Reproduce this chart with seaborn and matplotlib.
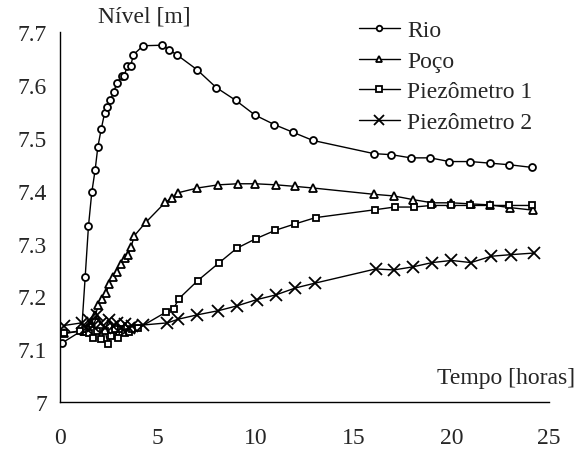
import matplotlib
matplotlib.use('Agg')
import matplotlib.pyplot as plt
import seaborn as sns
import pandas as pd

# 데이터
rio_t = [0.1, 1.1, 1.28, 1.45, 1.62, 1.79, 1.93, 2.10, 2.27, 2.42, 2.57, 2.74, 2.91, 3.17, 3.27,
         3.43, 3.6, 3.75, 4.24, 5.23, 5.59, 6.0, 6.99, 7.98, 8.97, 9.96, 10.95, 11.93, 12.92,
         16.04, 16.94, 17.93, 18.92, 19.9, 20.98, 21.97, 22.96, 24.11]
rio_h = [7.112, 7.135, 7.236, 7.333, 7.397, 7.439, 7.483, 7.516, 7.546, 7.559, 7.571, 7.587, 7.604,
         7.617, 7.617, 7.635, 7.635, 7.657, 7.674, 7.675, 7.666, 7.656, 7.629, 7.595, 7.571, 7.543,
         7.525, 7.510, 7.495, 7.470, 7.468, 7.462, 7.462, 7.455, 7.455, 7.452, 7.449, 7.444]

poco_t = [0.2, 1.2, 1.4, 1.6, 1.8, 1.96, 2.13, 2.34, 2.5, 2.72, 2.91, 3.1, 3.31, 3.48, 3.63, 3.8,
          4.38, 5.38, 5.71, 6.03, 7.02, 8.09, 9.08, 9.98, 11.04, 12.03, 12.93, 16.07, 17.06,
          18.05, 19.02, 20.01, 21.0, 21.98, 22.99, 24.2]
poco_h = [7.13, 7.135, 7.14, 7.15, 7.165, 7.183, 7.195, 7.206, 7.223, 7.237, 7.246, 7.261, 7.272,
          7.279, 7.294, 7.315, 7.34, 7.378, 7.386, 7.396, 7.405, 7.411, 7.413, 7.413, 7.411, 7.408,
          7.405, 7.393, 7.39, 7.383, 7.377, 7.377, 7.375, 7.373, 7.368, 7.363]

pz1_t = [0.2, 1.0, 1.3, 1.5, 1.7, 1.9, 2.1, 2.3, 2.45, 2.6, 2.8, 2.95, 3.1, 3.3, 3.5, 3.7, 4.0,
         5.4, 5.8, 6.08, 7.04, 8.11, 9.03, 10.0, 11.0, 12.0, 13.06, 16.12, 17.1, 18.09, 18.98,
         19.99, 20.97, 21.96, 22.96, 24.11]
pz1_h = [7.13, 7.135, 7.138, 7.13, 7.122, 7.135, 7.12, 7.135, 7.11, 7.125, 7.138, 7.122, 7.138,
         7.13, 7.133, 7.138, 7.14, 7.17, 7.177, 7.196, 7.23, 7.263, 7.291, 7.309, 7.325, 7.337,
         7.349, 7.364, 7.369, 7.369, 7.372, 7.372, 7.372, 7.372, 7.372, 7.372]

pz2_t = [0.2, 1.1, 1.3, 1.5, 1.7, 1.9, 2.1, 2.3, 2.5, 2.7, 2.9, 3.1, 3.3, 3.5, 3.7, 4.26, 5.49,
         6.05, 6.99, 8.09, 9.03, 10.06, 11.04, 12.03, 13.02, 16.14, 17.06, 18.05, 19.02, 20.01,
         21.0, 22.05, 23.06, 24.22]
pz2_h = [7.145, 7.15, 7.14, 7.155, 7.145, 7.165, 7.15, 7.14, 7.155, 7.145, 7.15, 7.14, 7.148,
         7.14, 7.145, 7.146, 7.15, 7.157, 7.165, 7.173, 7.182, 7.194, 7.203, 7.216, 7.225, 7.252,
         7.25, 7.256, 7.264, 7.268, 7.264, 7.276, 7.279, 7.282]

sns.set_style('white')
plt.rcParams['font.family'] = ['Liberation Serif', 'DejaVu Serif']

fig = plt.figure(figsize=(5.78, 4.52), dpi=100)
ax = fig.add_axes([0.104, 0.108, 0.846, 0.819])

series = [
    ('Rio', rio_t, rio_h, dict(marker='o', markersize=5, markeredgewidth=1.3)),
    ('Poço', poco_t, poco_h, dict(marker='^', markersize=6, markeredgewidth=1.3)),
    ('Piezômetro 1', pz1_t, pz1_h, dict(marker='s', markersize=5, markeredgewidth=1.3)),
    ('Piezômetro 2', pz2_t, pz2_h, dict(marker='x', markersize=9, markeredgewidth=1.3)),
]
for nome, t, h, kw in series:
    df = pd.DataFrame({'t': t, 'h': h})
    sns.lineplot(data=df, x='t', y='h', ax=ax, color='black', linewidth=1,
                 markerfacecolor='white', markeredgecolor='black', estimator=None,
                 label=nome, **kw)

ax.set_xlim(0, 25)
ax.set_ylim(7, 7.7)
ax.set_xticks([0, 5, 10, 15, 20, 25])
ax.set_yticks([7, 7.1, 7.2, 7.3, 7.4, 7.5, 7.6, 7.7])
ax.set_yticklabels(['7', '7.1', '7.2', '7.3', '7.4', '7.5', '7.6', '7.7'])
ax.tick_params(axis='both', labelsize=17, direction='out', length=6, width=1, color='black')
ax.tick_params(axis='x', pad=12)
ax.set_xlabel('')
ax.set_ylabel('')
for s in ['top', 'right']:
    ax.spines[s].set_visible(False)
for s in ['left', 'bottom']:
    ax.spines[s].set_color('black')
    ax.spines[s].set_linewidth(1)

fig.text(0.17, 0.962, 'Nível [m]', fontsize=17, ha='left', va='center')
fig.text(0.995, 0.163, 'Tempo [horas]', fontsize=17, ha='right', va='center')

leg = ax.legend(loc='upper left', bbox_to_anchor=(0.591, 1.058), frameon=False, fontsize=17,
                handlelength=1.75, handletextpad=0.3, labelspacing=0.38, borderaxespad=0,
                markerscale=0.8)

fig.savefig('out.png', dpi=100)
